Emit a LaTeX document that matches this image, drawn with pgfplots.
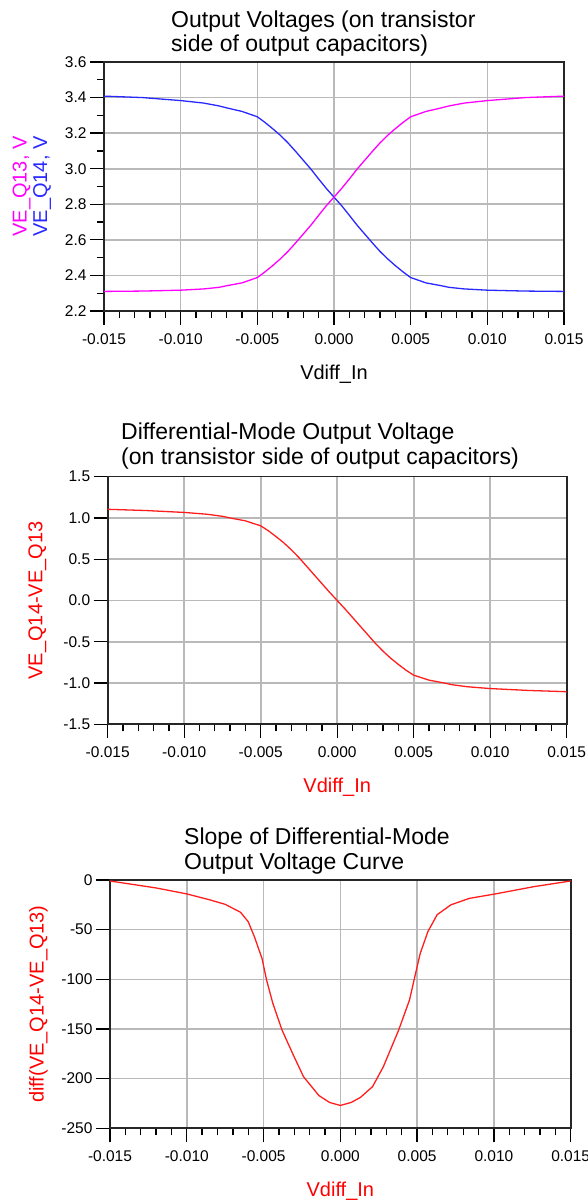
\documentclass[border=0pt]{standalone}
\usepackage{fontspec}
\setmainfont{Liberation Sans}
\usepackage{pgfplots}
\usepackage{pgfplotstable}
\pgfplotsset{compat=1.18}
\definecolor{vmag}{RGB}{255,0,255}
\definecolor{vblue}{RGB}{40,40,255}
\definecolor{vred}{RGB}{255,30,30}
\definecolor{gridgray}{RGB}{185,185,185}

\pgfplotstableread{
x q14 q13
-0.015 3.408 2.310
-0.0125 3.400 2.312
-0.010 3.383 2.317
-0.0085 3.369 2.324
-0.0075 3.353 2.333
-0.007 3.342 2.342
-0.006 3.322 2.358
-0.005 3.292 2.388
-0.0045 3.260 2.420
-0.004 3.225 2.455
-0.0035 3.188 2.493
-0.003 3.145 2.535
-0.0025 3.097 2.583
-0.002 3.047 2.633
-0.0015 2.997 2.683
-0.001 2.942 2.738
-0.0005 2.889 2.792
0 2.840 2.840
0.0005 2.792 2.889
0.001 2.738 2.942
0.0015 2.683 2.997
0.002 2.633 3.047
0.0025 2.583 3.097
0.003 2.535 3.145
0.0035 2.493 3.188
0.004 2.455 3.225
0.0045 2.420 3.260
0.005 2.388 3.292
0.006 2.358 3.322
0.007 2.342 3.342
0.0075 2.333 3.353
0.0085 2.324 3.369
0.010 2.317 3.383
0.0125 2.312 3.400
0.015 2.310 3.408
}\outv

\pgfplotstableread{
x d
-0.015 1.105
-0.0125 1.09
-0.010 1.067
-0.0085 1.045
-0.0075 1.02
-0.007 1.0
-0.006 0.965
-0.005 0.905
-0.0045 0.845
-0.004 0.775
-0.0035 0.70
-0.003 0.615
-0.0025 0.52
-0.002 0.415
-0.0015 0.31
-0.001 0.205
-0.0005 0.10
0 0
0.0005 -0.10
0.001 -0.205
0.0015 -0.31
0.002 -0.415
0.0025 -0.52
0.003 -0.615
0.0035 -0.70
0.004 -0.775
0.0045 -0.845
0.005 -0.905
0.006 -0.965
0.007 -1.0
0.0075 -1.02
0.0085 -1.045
0.010 -1.067
0.0125 -1.09
0.015 -1.105
}\diffv

\pgfplotstableread{
x s
-0.015 -1
-0.0135 -4.5
-0.012 -8
-0.010 -14
-0.0085 -20
-0.0075 -24.5
-0.0065 -32.5
-0.006 -42
-0.0056 -57
-0.0051 -79
-0.0048 -101
-0.0044 -124
-0.0038 -151
-0.0031 -175
-0.0024 -198
-0.0014 -217
-0.0007 -224
0 -227
0.0007 -224
0.0013 -219
0.0021 -208
0.0028 -188
0.0038 -151
0.0045 -121
0.0049 -94
0.0052 -74
0.0057 -52
0.0063 -35
0.0072 -25
0.0084 -18.5
0.0101 -14
0.0126 -6.7
0.015 -1
}\slopev

\pgfplotsset{
 myaxis/.style={
  scale only axis,
  xmin=-0.015, xmax=0.015,
  xtick={-0.015,-0.01,-0.005,0,0.005,0.01,0.015},
  xticklabels={-0.015,-0.010,-0.005,0.000,0.005,0.010,0.015},
  minor x tick num=4,
  tick align=outside,
  xtick pos=bottom, ytick pos=left,
  major tick length=14bp, minor tick length=7bp,
  grid=major,
  major grid style={gridgray, line width=1.6bp},
  axis line style={line width=1.6bp, black!85},
  tick style={black, line width=1.3bp},
  tick label style={font=\fontsize{15.5bp}{18bp}\selectfont},
  xticklabel style={yshift=-5bp},
  label style={font=\fontsize{20bp}{20.5bp}\selectfont},
  xlabel style={at={([yshift=-63bp]axis description cs:0.5,0)}, anchor=center},
  scaled ticks=false,
 }
}

\begin{document}
\begin{tikzpicture}
\path[use as bounding box] (0,0) rectangle (588bp,1200bp);

% Plot 1
\begin{axis}[myaxis,
  at={(104bp,889bp)}, anchor=south west,
  width=460bp, height=249bp,
  ymin=2.2, ymax=3.6,
  ytick={2.2,2.4,2.6,2.8,3.0,3.2,3.4,3.6},
  yticklabels={2.2,2.4,2.6,2.8,3.0,3.2,3.4,3.6},
  minor y tick num=1,
  xlabel={Vdiff\_In},
  ylabel={\textcolor{vmag}{VE\_Q13, V}\\\textcolor{vblue}{VE\_Q14, V}},
  ylabel style={at={([xshift=-72bp]axis description cs:0,0.5)}, anchor=center, align=center},
]
\addplot[vblue, line width=1.3bp] table[x=x, y=q14] {\outv};
\addplot[vmag, line width=1.3bp] table[x=x, y=q13] {\outv};
\end{axis}

% Plot 2
\begin{axis}[myaxis,
  at={(107.7bp,475.7bp)}, anchor=south west,
  width=459bp, height=247.6bp,
  ymin=-1.5, ymax=1.5,
  ytick={-1.5,-1,-0.5,0,0.5,1,1.5},
  yticklabels={-1.5,-1.0,-0.5,0.0,0.5,1.0,1.5},
  xlabel={\textcolor{red}{Vdiff\_In}},
  ylabel={\textcolor{red}{VE\_Q14-VE\_Q13}},
  ylabel style={at={([xshift=-70.2bp]axis description cs:0,0.5)}, anchor=center},
]
\addplot[vred, line width=1.3bp] table[x=x, y=d] {\diffv};
\end{axis}

% Plot 3
\begin{axis}[myaxis,
  at={(110bp,71.7bp)}, anchor=south west,
  width=460.7bp, height=248.3bp,
  ymin=-250, ymax=0,
  ytick={-250,-200,-150,-100,-50,0},
  yticklabels={-250,-200,-150,-100,-50,0},
  xlabel={\textcolor{red}{Vdiff\_In}},
  ylabel={\textcolor{red}{diff(VE\_Q14-VE\_Q13)}},
  ylabel style={at={([xshift=-71.5bp]axis description cs:0,0.5)}, anchor=center},
]
\addplot[vred, line width=1.3bp] table[x=x, y=s] {\slopev};
\end{axis}

% Titles
\begin{scope}[every node/.style={anchor=base west, inner sep=0pt, font=\fontsize{23bp}{25bp}\selectfont}]
\node at (171bp,1172bp) {Output Voltages (on transistor};
\node at (171bp,1148bp) {side of output capacitors)};
\node at (121bp,760bp) {Differential-Mode Output Voltage};
\node at (121bp,735bp) {(on transistor side of output capacitors)};
\node at (184bp,355bp) {Slope of Differential-Mode};
\node at (184bp,330bp) {Output Voltage Curve};
\end{scope}
\end{tikzpicture}
\end{document}
